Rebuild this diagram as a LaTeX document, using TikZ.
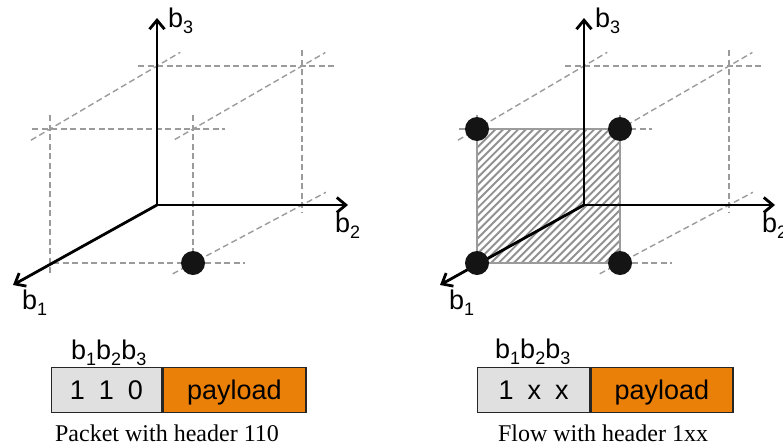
\documentclass[tikz,border=0pt]{standalone}
\usepackage{fontspec}
\setmainfont{Liberation Serif}
\newfontfamily\arialf{Liberation Sans}
\usetikzlibrary{arrows.meta}
\definecolor{payorange}{RGB}{234,128,8}
\definecolor{hdrgray}{RGB}{224,224,224}
\definecolor{guidegray}{RGB}{155,155,155}
\definecolor{hatchgray}{RGB}{145,145,145}
\newcommand\lowsub[1]{\raisebox{-6pt}{\fontsize{18}{18}\selectfont #1}}
\tikzset{
  axisline/.style={line width=2.8pt, -{Straight Barb[length=9pt,width=15pt]}},
  guide/.style={draw=guidegray, line width=1.4pt, dash pattern=on 6pt off 3.5pt},
  hatchline/.style={draw=hatchgray, line width=1.9pt},
  dotmark/.style={circle, fill=black!92, inner sep=0pt, minimum size=24pt},
  lbl/.style={font=\arialf\fontsize{27}{27}\selectfont, inner sep=0pt, anchor=base west},
  captext/.style={font=\fontsize{24}{24}\selectfont, inner sep=0pt, anchor=base},
  cell/.style={draw=black!85, line width=1.3pt, inner sep=0pt, minimum height=45pt,
    text height=24pt, text depth=5pt, font=\arialf\fontsize{27}{27}\selectfont},
  hdr/.style={cell, fill=hdrgray, anchor=north west},
  pay/.style={cell, fill=payorange, anchor=west},
}
\newcommand\cubeframe{%
  \coordinate (O) at (157,205);
  \coordinate (P1) at (50,263);
  \coordinate (P2) at (302,205);
  \coordinate (P3) at (157,66);
  \coordinate (P12) at (193,263);
  \coordinate (P13) at (50,129);
  \coordinate (P123) at (193,129);
  \coordinate (P23) at (302,66);
  \coordinate (T1) at (13,285);
  \coordinate (T2) at (348,205);
  \coordinate (T3) at (157,18);
  \draw[guide, shorten <=-19pt, shorten >=-33pt] (P3) -- (P23);
  \draw[guide, shorten <=-18pt, shorten >=-32pt] (P13) -- (P123);
  \draw[guide, shorten <=3pt, shorten >=-52pt] (P1) -- (P12);
  \draw[guide, shorten <=-14pt, shorten >=-12pt] (P13) -- (P1);
  \draw[guide, shorten <=-14pt] (P123) -- (P12);
  \draw[guide, shorten <=-16pt, shorten >=-8pt] (P23) -- (P2);
  \draw[guide, shorten <=-22pt, shorten >=-27pt] (P13) -- (P3);
  \draw[guide, shorten <=-21pt, shorten >=-27pt] (P123) -- (P23);
  \draw[guide, shorten <=-23pt, shorten >=-27pt] (P12) -- (P2);
}
\newcommand\cubeaxes{%
  \draw[axisline] (O) -- (T3);
  \draw[axisline] (O) -- (T2);
  \draw[axisline] (O) -- (T1);
  \node[lbl] (b3) at (168,27) {b\lowsub{3}};
  \node[lbl] (b2) at (335,232) {b\lowsub{2}};
  \node[lbl] (b1) at (22,309) {b\lowsub{1}};
}
\begin{document}
\begin{tikzpicture}[x=1pt,y=-1pt]
\useasboundingbox (0,0) rectangle (783,447);
% left: packet
\begin{scope}[name prefix=L-]
  \cubeframe
  \cubeaxes
  \node[dotmark] (d12) at (P12) {};
\end{scope}
% right: flow
\begin{scope}[shift={(427,0)}, name prefix=R-]
  \cubeframe
  \fill[white] (P13) rectangle (P12);
  \begin{scope}
    \clip (P13) rectangle (P12);
    \foreach \k in {0,...,38} {
      \draw[hatchline] ({125+7.6*\k-250},300) -- ({125+7.6*\k-50},100);
    }
  \end{scope}
  \draw[draw=guidegray, line width=1.3pt] (P13) rectangle (P12);
  \cubeaxes
  \node[dotmark] (d1) at (P1) {};
  \node[dotmark] (d12) at (P12) {};
  \node[dotmark] (d13) at (P13) {};
  \node[dotmark] (d123) at (P123) {};
\end{scope}
% packet boxes
\node[lbl] (Lbits) at (71,359) {b\lowsub{1}b\lowsub{2}b\lowsub{3}};
\node[hdr, minimum width=110.5pt] (Lhdr) at (50.5,367) {1\hspace{14pt}1\hspace{14pt}0};
\node[pay, minimum width=143pt] (Lpay) at (Lhdr.east) {payload};
\node[captext] (Lcap) at (167,441) {Packet with header 110};
\node[lbl] (Rbits) at (495,358) {b\lowsub{1}b\lowsub{2}b\lowsub{3}};
\node[hdr, minimum width=112pt] (Rhdr) at (477,367) {1\hspace{14pt}x\hspace{14pt}x};
\node[pay, minimum width=142pt] (Rpay) at (Rhdr.east) {payload};
\node[captext] (Rcap) at (603,441) {Flow with header 1xx};
\end{tikzpicture}
\end{document}
